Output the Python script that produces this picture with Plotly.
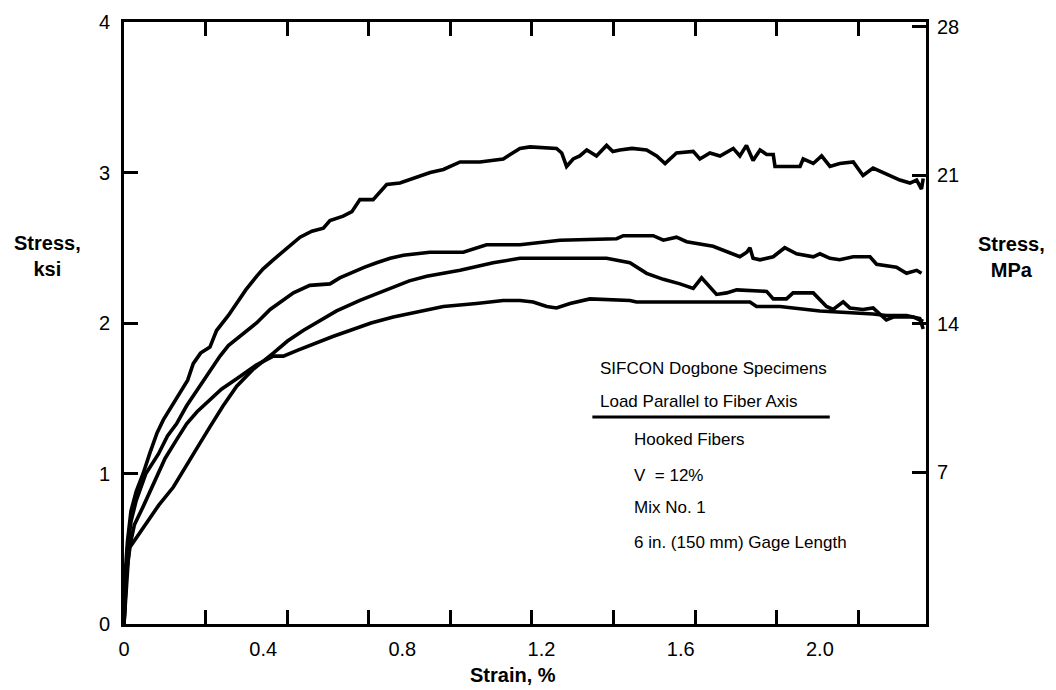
import plotly.graph_objects as go

# ---- data (strain %, stress ksi) ----
curve_a = [(0,0),(0.002,0.15),(0.004,0.35),(0.01,0.55),(0.02,0.75),(0.035,0.88),(0.055,1.0),
           (0.075,1.14),(0.095,1.27),(0.113,1.356),(0.14,1.46),(0.16,1.54),(0.183,1.62),(0.199,1.73),
           (0.22,1.80),(0.247,1.84),(0.266,1.95),(0.30,2.05),(0.324,2.13),(0.35,2.22),(0.381,2.31),
           (0.40,2.36),(0.429,2.42),(0.47,2.50),(0.506,2.57),(0.54,2.61),(0.573,2.63),(0.592,2.68),
           (0.630,2.71),(0.655,2.74),(0.678,2.82),(0.716,2.82),(0.735,2.87),(0.755,2.92),(0.793,2.93),
           (0.841,2.97),(0.88,3.00),(0.918,3.02),(0.966,3.07),(1.023,3.07),(1.09,3.09),(1.11,3.12),
           (1.138,3.16),(1.167,3.17),(1.243,3.16),(1.258,3.13),(1.272,3.04),(1.291,3.09),(1.310,3.11),
           (1.330,3.15),(1.358,3.11),(1.387,3.18),(1.405,3.14),(1.425,3.15),(1.46,3.16),(1.502,3.15),
           (1.531,3.11),(1.555,3.06),(1.588,3.13),(1.636,3.14),(1.655,3.09),(1.684,3.13),(1.713,3.11),
           (1.751,3.16),(1.770,3.11),(1.789,3.18),(1.808,3.08),(1.828,3.15),(1.847,3.12),(1.866,3.12),
           (1.871,3.04),(1.943,3.04),(1.952,3.09),(1.981,3.06),(2.005,3.11),(2.029,3.04),(2.057,3.06),
           (2.096,3.07),(2.124,2.98),(2.153,3.03),(2.191,2.99),(2.230,2.95),(2.259,2.93),(2.278,2.95),
           (2.292,2.89),(2.297,2.96)]

curve_b = [(0,0),(0.003,0.15),(0.006,0.35),(0.01,0.5),(0.02,0.68),(0.035,0.82),(0.063,1.0),
           (0.099,1.13),(0.125,1.25),(0.151,1.33),(0.18,1.45),(0.209,1.55),(0.24,1.66),(0.276,1.78),
           (0.30,1.85),(0.333,1.91),(0.381,2.00),(0.420,2.09),(0.455,2.15),(0.487,2.20),(0.534,2.25),
           (0.592,2.26),(0.620,2.30),(0.649,2.33),(0.690,2.37),(0.726,2.40),(0.765,2.43),(0.803,2.45),
           (0.879,2.47),(0.975,2.47),(1.042,2.52),(1.138,2.52),(1.253,2.55),(1.416,2.56),(1.435,2.58),
           (1.521,2.58),(1.550,2.55),(1.588,2.57),(1.617,2.54),(1.693,2.51),(1.770,2.44),(1.790,2.47),
           (1.799,2.50),(1.808,2.43),(1.828,2.42),(1.866,2.44),(1.899,2.50),(1.933,2.46),(1.981,2.44),
           (2.0,2.46),(2.029,2.43),(2.057,2.42),(2.096,2.44),(2.144,2.44),(2.163,2.39),(2.220,2.37),
           (2.249,2.33),(2.278,2.35),(2.292,2.33)]

curve_c = [(0,0),(0.004,0.15),(0.008,0.3),(0.012,0.42),(0.017,0.51),(0.04,0.59),(0.065,0.67),
           (0.10,0.79),(0.142,0.91),(0.180,1.06),(0.218,1.20),(0.247,1.31),(0.285,1.45),(0.324,1.58),
           (0.37,1.69),(0.429,1.80),(0.47,1.88),(0.515,1.95),(0.56,2.01),(0.611,2.08),(0.678,2.15),
           (0.72,2.19),(0.774,2.24),(0.82,2.28),(0.870,2.31),(0.966,2.35),(1.061,2.40),(1.138,2.43),
           (1.387,2.43),(1.454,2.40),(1.502,2.33),(1.550,2.29),(1.598,2.26),(1.636,2.23),(1.660,2.30),
           (1.684,2.24),(1.703,2.19),(1.732,2.20),(1.761,2.22),(1.847,2.21),(1.866,2.16),(1.904,2.16),
           (1.923,2.20),(1.981,2.20),(2.019,2.11),(2.038,2.09),(2.067,2.14),(2.086,2.10),(2.124,2.09),
           (2.153,2.10),(2.191,2.02),(2.211,2.04),(2.268,2.04),(2.297,2.01)]

curve_d = [(0,0),(0.003,0.15),(0.007,0.33),(0.015,0.5),(0.03,0.66),(0.055,0.78),(0.085,0.93),
           (0.118,1.10),(0.150,1.22),(0.180,1.33),(0.210,1.41),(0.238,1.47),(0.28,1.56),(0.324,1.63),
           (0.38,1.72),(0.429,1.78),(0.458,1.78),(0.50,1.82),(0.554,1.87),(0.60,1.91),(0.649,1.95),
           (0.71,2.00),(0.774,2.04),(0.85,2.08),(0.918,2.11),(1.013,2.13),(1.090,2.15),(1.138,2.15),
           (1.176,2.14),(1.215,2.11),(1.243,2.10),(1.282,2.13),(1.339,2.16),(1.454,2.15),(1.473,2.14),
           (1.799,2.14),(1.818,2.11),(1.885,2.11),(2.0,2.08),(2.153,2.06),(2.191,2.05),(2.249,2.05),
           (2.287,2.03),(2.297,1.96)]

x_labels = [0, 0.4, 0.8, 1.2, 1.6, 2.0]
x_label_text = ["0", "0.4", "0.8", "1.2", "1.6", "2.0"]
x_tick_marks = [0.2345, 0.469, 0.7035, 0.938, 1.1725, 1.407, 1.6415, 1.876, 2.11]
ksi_ticks = [0, 1, 2, 3, 4]
mpa_ticks = [7, 14, 21, 28]

note_lines = ["SIFCON Dogbone Specimens", "Load Parallel to Fiber Axis", "Hooked Fibers",
              "V  = 12%", "Mix No. 1", "6 in. (150 mm) Gage Length"]

FONT = "Liberation Sans, Arial, Helvetica, sans-serif"

fig = go.Figure()
for c in (curve_a, curve_b, curve_c, curve_d):
    xs, ys = zip(*c)
    fig.add_trace(go.Scatter(x=list(xs), y=list(ys), mode="lines",
                             line=dict(color="black", width=3.6),
                             showlegend=False, hoverinfo="skip"))
# empty trace so the right-hand MPa axis is drawn
fig.add_trace(go.Scatter(x=[None], y=[None], yaxis="y2", mode="lines",
                         showlegend=False, hoverinfo="skip"))

fig.update_layout(
    width=1056, height=690,
    margin=dict(l=124, r=130, t=22, b=66),
    paper_bgcolor="white", plot_bgcolor="white",
    font=dict(family=FONT, color="black", size=20),
    xaxis=dict(range=[0, 2.305], tickvals=x_labels, ticktext=x_label_text, ticks="",
               showline=True, linewidth=3, linecolor="black", mirror="ticks",
               showgrid=False, zeroline=False, tickfont=dict(size=20), ticklabelstandoff=5,
               minor=dict(tickvals=x_tick_marks, ticks="inside", ticklen=14, tickwidth=3,
                          tickcolor="black", showgrid=False)),
    yaxis=dict(range=[0, 4], tickvals=ksi_ticks, ticks="inside", ticklen=14, tickwidth=3,
               tickcolor="black", showline=True, linewidth=3, linecolor="black",
               showgrid=False, zeroline=False, tickfont=dict(size=20), ticklabelstandoff=7),
    yaxis2=dict(range=[-0.14, 28.23], overlaying="y", side="right", anchor="x",
                tickvals=mpa_ticks, ticks="inside", ticklen=14, tickwidth=3, tickcolor="black",
                showline=True, linewidth=3, linecolor="black", showgrid=False,
                zeroline=False, tickfont=dict(size=20), ticklabelstandoff=4),
)

ann = [
    dict(text="<b>Strain, %</b>", x=0.485, y=-0.085, xref="paper", yref="paper",
         showarrow=False, font=dict(size=20), xanchor="center", yanchor="middle"),
    dict(text="<b>Stress,<br>ksi</b>", x=-0.096, y=0.611, xref="paper", yref="paper",
         showarrow=False, font=dict(size=20), xanchor="center", yanchor="middle"),
    dict(text="<b>Stress,<br>MPa</b>", x=1.107, y=0.609, xref="paper", yref="paper",
         showarrow=False, font=dict(size=20), xanchor="center", yanchor="middle"),
]
note_x = [0.591, 0.591, 0.633, 0.633, 0.633, 0.633]
note_y = [0.425, 0.369, 0.306, 0.2475, 0.193, 0.1346]
for t, nx, ny in zip(note_lines, note_x, note_y):
    ann.append(dict(text=t, x=nx, y=ny, xref="paper", yref="paper", showarrow=False,
                    font=dict(size=17), xanchor="left", yanchor="middle"))
fig.update_layout(annotations=ann)

fig.add_shape(type="line", xref="paper", yref="paper", x0=0.584, x1=0.880, y0=0.344, y1=0.344,
              line=dict(color="black", width=3))

fig.write_html("out.html", config={"displayModeBar": False},
               post_script="document.body.style.margin='0';document.body.style.overflow='hidden';")
